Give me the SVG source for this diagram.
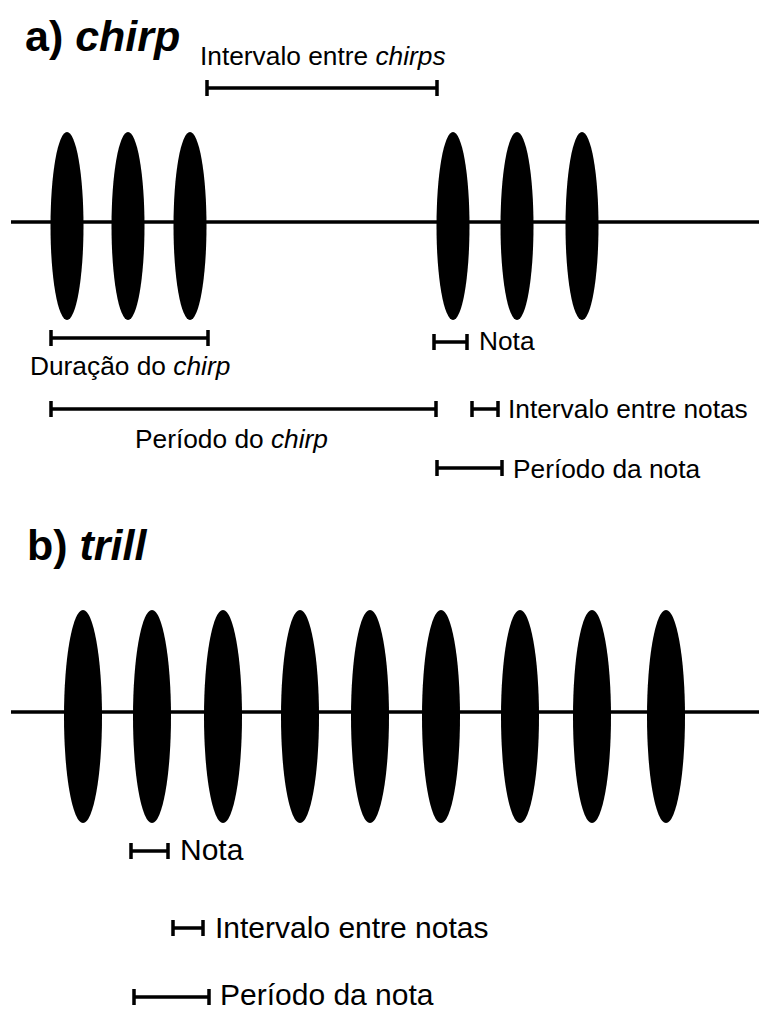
<svg xmlns="http://www.w3.org/2000/svg" width="759" height="1012" viewBox="0 0 759 1012">
<style>
.t{font-family:"Liberation Sans",Arial,sans-serif;font-size:26.3px;fill:#000}
.tb{font-family:"Liberation Sans",Arial,sans-serif;font-size:30px;fill:#000}
.h{font-family:"Liberation Sans",Arial,sans-serif;font-size:43px;font-weight:bold;fill:#000}
.i{font-style:italic}
.axis{stroke:#000;stroke-width:3.5;fill:none}
.br{stroke:#000;stroke-width:3.5;fill:none}
.n{fill:#000}
</style>
<defs>
<ellipse id="na" cx="0" cy="0" rx="16.5" ry="94"/>
<ellipse id="nb" cx="0" cy="0" rx="19" ry="106.5"/>
</defs>
<g id="title-a"><text class="h" x="25" y="51">a) <tspan class="i">chirp</tspan></text></g>
<g id="title-b"><text class="h" x="27" y="560">b) <tspan class="i">trill</tspan></text></g>
<g id="axes">
<line class="axis" x1="11" y1="222" x2="759" y2="222"/>
<line class="axis" x1="11" y1="712" x2="759" y2="712"/>
</g>
<g id="notes-a" class="n">
<use href="#na" x="67" y="226"/>
<use href="#na" x="128" y="226"/>
<use href="#na" x="190" y="226"/>
<use href="#na" x="453" y="226"/>
<use href="#na" x="517" y="226"/>
<use href="#na" x="582" y="226"/>
</g>
<g id="notes-b" class="n">
<use href="#nb" x="83" y="716.5"/>
<use href="#nb" x="152" y="716.5"/>
<use href="#nb" x="223" y="716.5"/>
<use href="#nb" x="300" y="716.5"/>
<use href="#nb" x="370" y="716.5"/>
<use href="#nb" x="441" y="716.5"/>
<use href="#nb" x="520" y="716.5"/>
<use href="#nb" x="592" y="716.5"/>
<use href="#nb" x="666" y="716.5"/>
</g>
<g id="brackets" class="br">
<path d="M207 88H437M207 80V96M437 80V96"/>
<path d="M51 338H208M51 330V346M208 330V346"/>
<path d="M51 409H436M51 401V417M436 401V417"/>
<path d="M434 342H467M434 334V350M467 334V350"/>
<path d="M472 409H498M472 401V417M498 401V417"/>
<path d="M437 468H502M437 460V476M502 460V476"/>
<path d="M131 851H168M131 843V859M168 843V859"/>
<path d="M173 928H203M173 920V936M203 920V936"/>
<path d="M134 997H209M134 989V1005M209 989V1005"/>
</g>
<g id="labels">
<text class="t" x="200" y="65">Intervalo entre <tspan class="i">chirps</tspan></text>
<text class="t" x="30" y="375">Duração do <tspan class="i">chirp</tspan></text>
<text class="t" x="135" y="448">Período do <tspan class="i">chirp</tspan></text>
<text class="t" x="479" y="350">Nota</text>
<text class="t" x="508" y="418">Intervalo entre notas</text>
<text class="t" x="513" y="478">Período da nota</text>
<text class="tb" x="180" y="860">Nota</text>
<text class="tb" x="215" y="938">Intervalo entre notas</text>
<text class="tb" x="220" y="1005">Período da nota</text>
</g>
</svg>
